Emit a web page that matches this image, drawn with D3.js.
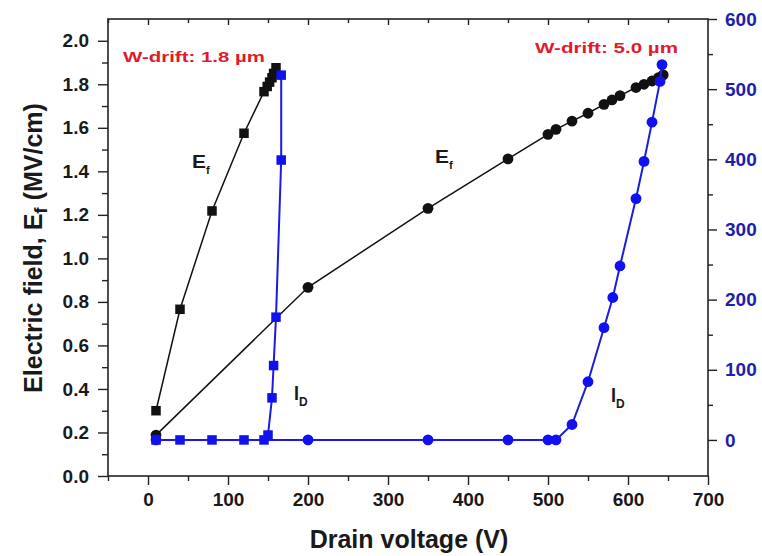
<!DOCTYPE html>
<html>
<head>
<meta charset="utf-8">
<script src="https://cdn.jsdelivr.net/npm/d3@7"></script>
<style>
  html, body { margin: 0; padding: 0; background: #fff; }
  svg { display: block; font-family: "Liberation Sans", Arial, sans-serif; }
</style>
</head>
<body>
<svg id="chart" width="762" height="556"></svg>
<script>
// Drift width 1.8 um: peak electric field (MV/cm) and drain current vs drain voltage
const efShortV = [10, 40, 80, 120, 145, 149, 152, 155, 157, 160];
const efShortE = [0.30, 0.766, 1.218, 1.575, 1.766, 1.79, 1.81, 1.83, 1.85, 1.876];
const idShortV = [10, 40, 80, 120, 145, 150, 155, 157, 160, 166.5, 166.5];
const idShortI = [0, 0, 0, 0, 0, 7, 60, 106, 175, 399, 520];

// Drift width 5.0 um
const efLongV = [10, 200, 350, 450, 500, 510, 530, 550, 570, 580, 590, 610, 620, 630, 638, 644];
const efLongE = [0.188, 0.867, 1.23, 1.457, 1.57, 1.593, 1.631, 1.667, 1.708, 1.728, 1.748, 1.785, 1.80, 1.815, 1.83, 1.843];
const idLongV = [10, 200, 350, 450, 500, 510, 530, 550, 570, 581, 590, 610, 620, 630, 640, 642.5];
const idLongI = [0, 0, 0, 0, 0, 0, 22, 83, 160, 203, 248, 344, 397, 453, 511, 535];

// Axis ticks
const xTicks = [0, 100, 200, 300, 400, 500, 600, 700];
const yLeftTicks = [0.0, 0.2, 0.4, 0.6, 0.8, 1.0, 1.2, 1.4, 1.6, 1.8, 2.0];
const yRightTicks = [0, 100, 200, 300, 400, 500, 600];

const blue = "#1010f0";
const blueLine = "#1c1ce0";
const blueText = "#1e1eaa";
const red = "#e21a2c";
const ink = "#1a1a1a";

const svg = d3.select("#chart");
const L = 108, R = 708, T = 19, B = 476;

const x = d3.scaleLinear().domain([-50, 700]).range([L, R]);
const yL = d3.scaleLinear().domain([0, 2.1]).range([B, T]);
const yR = d3.scaleLinear().domain([-51.4, 600]).range([B, T]);

// Frame
svg.append("rect").attr("x", L).attr("y", T).attr("width", R - L).attr("height", B - T)
  .attr("fill", "none").attr("stroke", "#222").attr("stroke-width", 1.6);

function styleAxis(g, color) {
  g.select(".domain").remove();
  g.selectAll(".tick line").attr("stroke", "#222").attr("stroke-width", 1.4);
  g.selectAll(".tick text").attr("fill", color).style("font-weight", "bold").style("font-size", "19px");
}

// Bottom axis: labelled majors plus minors
const xMinor = d3.range(-50, 701, 50).filter(v => v % 100 !== 0);
svg.append("g").attr("transform", `translate(0,${B})`)
  .call(d3.axisBottom(x).tickValues(xTicks).tickFormat(d3.format("d")).tickSize(9).tickPadding(8))
  .call(g => styleAxis(g, ink));
svg.append("g").attr("transform", `translate(0,${B})`)
  .call(d3.axisBottom(x).tickValues(xMinor).tickFormat("").tickSize(5))
  .call(g => styleAxis(g, ink));
// Top mirror ticks pointing inside
svg.append("g").attr("transform", `translate(0,${T})`)
  .call(d3.axisBottom(x).tickValues(xTicks.slice(0, -1)).tickFormat("").tickSize(6))
  .call(g => styleAxis(g, ink));
svg.append("g").attr("transform", `translate(0,${T})`)
  .call(d3.axisBottom(x).tickValues(xMinor).tickFormat("").tickSize(4))
  .call(g => styleAxis(g, ink));

// Left axis (field)
const yLMinor = d3.range(1, 21, 2).map(v => v / 10);
svg.append("g").attr("transform", `translate(${L},0)`)
  .call(d3.axisLeft(yL).tickValues(yLeftTicks).tickFormat(d3.format(".1f")).tickSize(10).tickPadding(9))
  .call(g => styleAxis(g, ink));
svg.append("g").attr("transform", `translate(${L},0)`)
  .call(d3.axisLeft(yL).tickValues(yLMinor).tickFormat("").tickSize(6))
  .call(g => styleAxis(g, ink));

// Right axis (current)
const yRMinor = [50, 150, 250, 350, 450, 550];
svg.append("g").attr("transform", `translate(${R},0)`)
  .call(d3.axisRight(yR).tickValues(yRightTicks).tickFormat(d3.format("d")).tickSize(9).tickPadding(8))
  .call(g => styleAxis(g, blueText));
svg.append("g").attr("transform", `translate(${R},0)`)
  .call(d3.axisRight(yR).tickValues(yRMinor).tickFormat("").tickSize(5))
  .call(g => styleAxis(g, blueText));

// Axis titles
svg.append("text").attr("x", 409).attr("y", 548).attr("text-anchor", "middle")
  .style("font-weight", "bold").style("font-size", "25px").attr("fill", ink)
  .text("Drain voltage (V)");
const yt = svg.append("text").attr("transform", "translate(42,248) rotate(-90)")
  .attr("text-anchor", "middle").style("font-weight", "bold").style("font-size", "25px").attr("fill", ink);
yt.append("tspan").text("Electric field, E");
yt.append("tspan").attr("dy", 5).style("font-size", "19px").text("f");
yt.append("tspan").attr("dy", -5).text(" (MV/cm)");

// Series drawing
function zip(a, b) { return a.map((v, i) => [v, b[i]]); }

function drawSeries(vs, ys, yScale, lineColor, width, fill, shape) {
  const pts = zip(vs, ys);
  const line = d3.line().x(d => x(d[0])).y(d => yScale(d[1]));
  svg.append("path").datum(pts).attr("d", line).attr("fill", "none")
    .attr("stroke", lineColor).attr("stroke-width", width);
  if (shape === "square") {
    svg.append("g").selectAll("rect").data(pts).join("rect")
      .attr("x", d => x(d[0]) - 4.75).attr("y", d => yScale(d[1]) - 4.75)
      .attr("width", 9.5).attr("height", 9.5).attr("fill", fill);
  } else {
    svg.append("g").selectAll("circle").data(pts).join("circle")
      .attr("cx", d => x(d[0])).attr("cy", d => yScale(d[1])).attr("r", 5.4)
      .attr("fill", fill);
  }
}

drawSeries(efLongV, efLongE, yL, "#111", 1.5, "#111", "circle");
drawSeries(efShortV, efShortE, yL, "#111", 1.5, "#111", "square");
drawSeries(idLongV, idLongI, yR, blueLine, 2, blue, "circle");
drawSeries(idShortV, idShortI, yR, blueLine, 2, blue, "square");

// Curve labels with subscripts
function subLabel(px, py, main, sub, size, w) {
  const t = svg.append("text").attr("x", px).attr("y", py)
    .style("font-size", size + "px").style("font-weight", "bold").attr("fill", ink);
  t.append("tspan").text(main).attr("textLength", w).attr("lengthAdjust", "spacingAndGlyphs");
  t.append("tspan").attr("dy", size * 0.3).style("font-size", (size * 0.6) + "px").text(sub);
}
subLabel(192, 168, "E", "f", 19, 14);
subLabel(435, 163, "E", "f", 19, 14);
subLabel(294, 400, "I", "D", 20, 5);
subLabel(611, 402, "I", "D", 20, 5);

// Drift-width annotations
svg.append("text").attr("x", 123).attr("y", 62).attr("fill", red)
  .attr("textLength", 142).attr("lengthAdjust", "spacingAndGlyphs")
  .style("font-weight", "bold").style("font-size", "14.5px").text("W-drift: 1.8 \u00b5m");
svg.append("text").attr("x", 535).attr("y", 53).attr("fill", red)
  .attr("textLength", 143).attr("lengthAdjust", "spacingAndGlyphs")
  .style("font-weight", "bold").style("font-size", "14.5px").text("W-drift: 5.0 \u00b5m");
</script>
</body>
</html>
